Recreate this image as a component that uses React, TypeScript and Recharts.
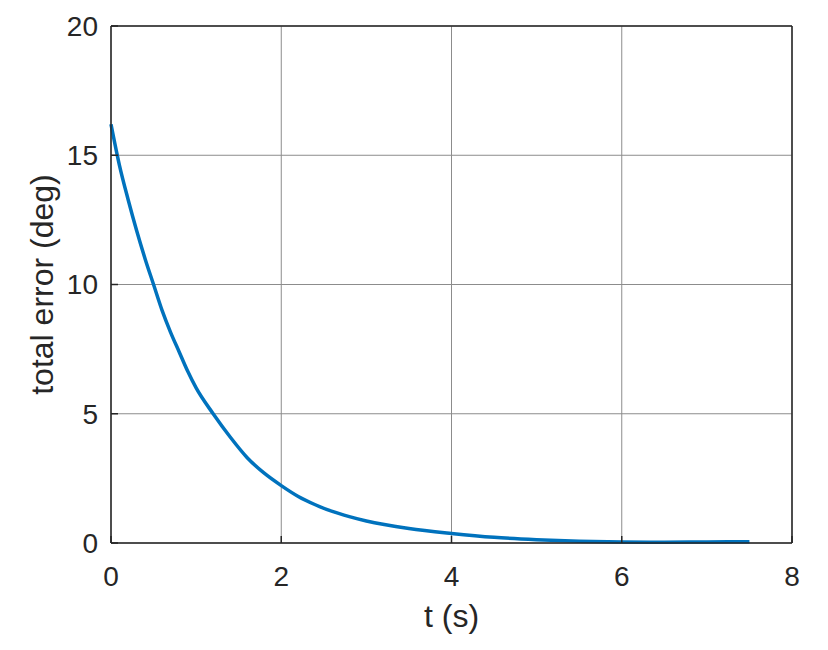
import {
  CartesianGrid,
  Line,
  LineChart,
  ReferenceLine,
  XAxis,
  YAxis,
} from "recharts";

// time samples (s) and total error (deg)
const timeS = [
  0, 0.1, 0.2, 0.3, 0.4, 0.5, 0.6, 0.7, 0.8, 0.9, 1.0, 1.2, 1.4, 1.6, 1.8, 2.0,
  2.2, 2.4, 2.6, 2.8, 3.0, 3.5, 4.0, 4.5, 5.0, 5.5, 6.0, 6.5, 7.0, 7.5,
];
const totalErr = [
  16.2, 14.6, 13.3, 12.1, 11.0, 10.0, 9.0, 8.15, 7.4, 6.65, 6.0, 5.0, 4.1, 3.3,
  2.7, 2.22, 1.8, 1.48, 1.22, 1.02, 0.85, 0.56, 0.37, 0.22, 0.13, 0.07, 0.04,
  0.03, 0.04, 0.05,
];
const xTicks = [0, 2, 4, 6, 8];
const yTicks = [0, 5, 10, 15, 20];

const data = timeS.map((t, i) => ({ t, err: totalErr[i] }));

const FONT = "'Liberation Sans', Arial, Helvetica, sans-serif";
const INK = "#262626";
const X_GAP = 23;
const Y_GAP = 13;
const TICK_LEN = 7;

// matlab-style ticks: label outside, short mark pointing into the axes
function XTick(props: any) {
  const { x, y, payload } = props;
  const axisY = y - X_GAP;
  return (
    <g>
      <line x1={x} x2={x} y1={axisY} y2={axisY - TICK_LEN} stroke={INK} strokeWidth={1.5} />
      <text x={x} y={y} dy="0.71em" textAnchor="middle" fontSize={28} fill={INK} fontFamily={FONT}>
        {payload.value}
      </text>
    </g>
  );
}

function YTick(props: any) {
  const { x, y, payload } = props;
  const axisX = x + Y_GAP;
  return (
    <g>
      <line x1={axisX} x2={axisX + TICK_LEN} y1={y} y2={y} stroke={INK} strokeWidth={1.5} />
      <text x={x} y={y} dy="0.355em" textAnchor="end" fontSize={28} fill={INK} fontFamily={FONT}>
        {payload.value}
      </text>
    </g>
  );
}

export default function App() {
  return (
    <div
      style={{
        position: "absolute",
        left: 0,
        top: 0,
        width: 828,
        height: 650,
        background: "#fff",
        fontFamily: FONT,
      }}
    >
      <LineChart
        width={828}
        height={650}
        data={data}
        margin={{ top: 26, right: 36, left: 0, bottom: 0 }}
      >
        <CartesianGrid stroke="#8c8c8c" strokeWidth={1} />
        <XAxis
          dataKey="t"
          type="number"
          domain={[0, 8]}
          ticks={xTicks}
          height={107}
          tickLine={false}
          tickSize={0}
          tickMargin={X_GAP}
          axisLine={{ stroke: INK, strokeWidth: 1.5 }}
          tick={<XTick />}
          label={{
            value: "t (s)",
            position: "insideBottom",
            offset: 23,
            style: { fontSize: 32, fill: INK, fontFamily: FONT },
          }}
        />
        <YAxis
          type="number"
          domain={[0, 20]}
          ticks={yTicks}
          width={111}
          tickLine={false}
          tickSize={0}
          tickMargin={Y_GAP}
          axisLine={{ stroke: INK, strokeWidth: 1.5 }}
          tick={<YTick />}
          label={{
            value: "total error (deg)",
            angle: -90,
            position: "insideLeft",
            offset: 42,
            style: {
              fontSize: 32,
              fill: INK,
              fontFamily: FONT,
              textAnchor: "middle",
            },
          }}
        />
        <ReferenceLine y={20} stroke={INK} strokeWidth={1.5} />
        <ReferenceLine x={8} stroke={INK} strokeWidth={1.5} />
        <Line
          type="monotone"
          dataKey="err"
          stroke="#0072BD"
          strokeWidth={3.5}
          dot={false}
          isAnimationActive={false}
        />
      </LineChart>
    </div>
  );
}
